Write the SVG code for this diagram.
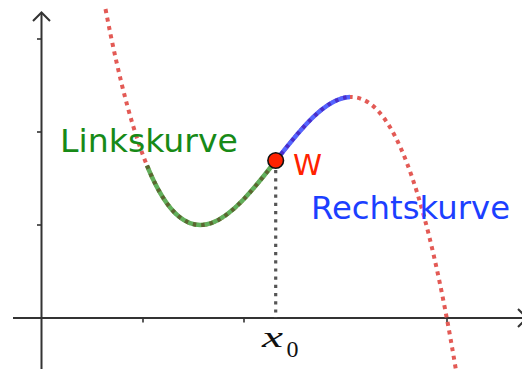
<svg xmlns="http://www.w3.org/2000/svg" width="522" height="369" viewBox="0 0 522 369">
<style>
.axis{stroke:#333;stroke-width:2;fill:none}
.tick{stroke:#333;stroke-width:1.6}
.reddots{stroke:#e35a55;stroke-width:4;fill:none;stroke-dasharray:4 4.6}
.gline{stroke:#62b05c;stroke-width:4.5;fill:none}
.gdots{stroke:#5b6630;stroke-width:4;fill:none;stroke-dasharray:3.5 5}
.bline{stroke:#5565ff;stroke-width:4.5;fill:none}
.bdots{stroke:#4a2ec8;stroke-width:4;fill:none;stroke-dasharray:3.5 5}
.vdots{stroke:#555;stroke-width:3.2;fill:none;stroke-dasharray:3.2 5}
.lbl{font-family:"DejaVu Sans",sans-serif;font-size:32px}
</style>
<g id="axes">
<line class="axis" x1="13" y1="318" x2="525" y2="318"/>
<polyline class="axis" points="518,309 527,318 518,327"/>
<line class="axis" x1="41.5" y1="369" x2="41.5" y2="13"/>
<polyline class="axis" points="33,21 41.5,12.5 50,21"/>
<line class="tick" x1="143" y1="318" x2="143" y2="322.5"/>
<line class="tick" x1="244" y1="318" x2="244" y2="322.5"/>
<line class="tick" x1="447" y1="318" x2="447" y2="322.5"/>
<line class="tick" x1="37" y1="225" x2="41.5" y2="225"/>
<line class="tick" x1="37" y1="132" x2="41.5" y2="132"/>
<line class="tick" x1="37" y1="39" x2="41.5" y2="39"/>
</g>
<g id="curve">
<path class="reddots" d="M105.5,9 C222.33,619.93 339.17,-334.38 456,370.36"/>
</g>
<g id="linkskurve-segment">
<path class="gline" d="M147,165.53 C189.9,270.36 232.8,215.61 275.7,160.93"/>
<path class="gdots" d="M147,165.53 C189.9,270.36 232.8,215.61 275.7,160.93"/>
</g>
<g id="rechtskurve-segment">
<path class="bline" d="M275.7,160.93 C300.47,129.36 325.23,97.81 350,97"/>
<path class="bdots" d="M275.7,160.93 C300.47,129.36 325.23,97.81 350,97"/>
</g>
<g id="drop-line">
<line class="vdots" x1="275.7" y1="170" x2="275.7" y2="318"/>
</g>
<g id="point-W">
<circle cx="275.7" cy="160.5" r="7.8" fill="#ff2200" stroke="#111" stroke-width="1.6"/>
<text x="293" y="175" font-family="DejaVu Sans,sans-serif" font-size="28" fill="#ff2200" textLength="29" lengthAdjust="spacingAndGlyphs">W</text>
</g>
<g id="labels">
<text class="lbl" x="60" y="152" fill="#178a17" textLength="178" lengthAdjust="spacingAndGlyphs">Linkskurve</text>
<text class="lbl" x="311" y="218.5" fill="#1c3fff" textLength="199" lengthAdjust="spacingAndGlyphs">Rechtskurve</text>
<text x="262" y="347" font-family="Liberation Serif,serif" font-style="italic" font-size="30" fill="#111" textLength="21" lengthAdjust="spacingAndGlyphs">x</text>
<text x="286.5" y="357" font-family="Liberation Serif,serif" font-size="24" fill="#111">0</text>
</g>
</svg>
